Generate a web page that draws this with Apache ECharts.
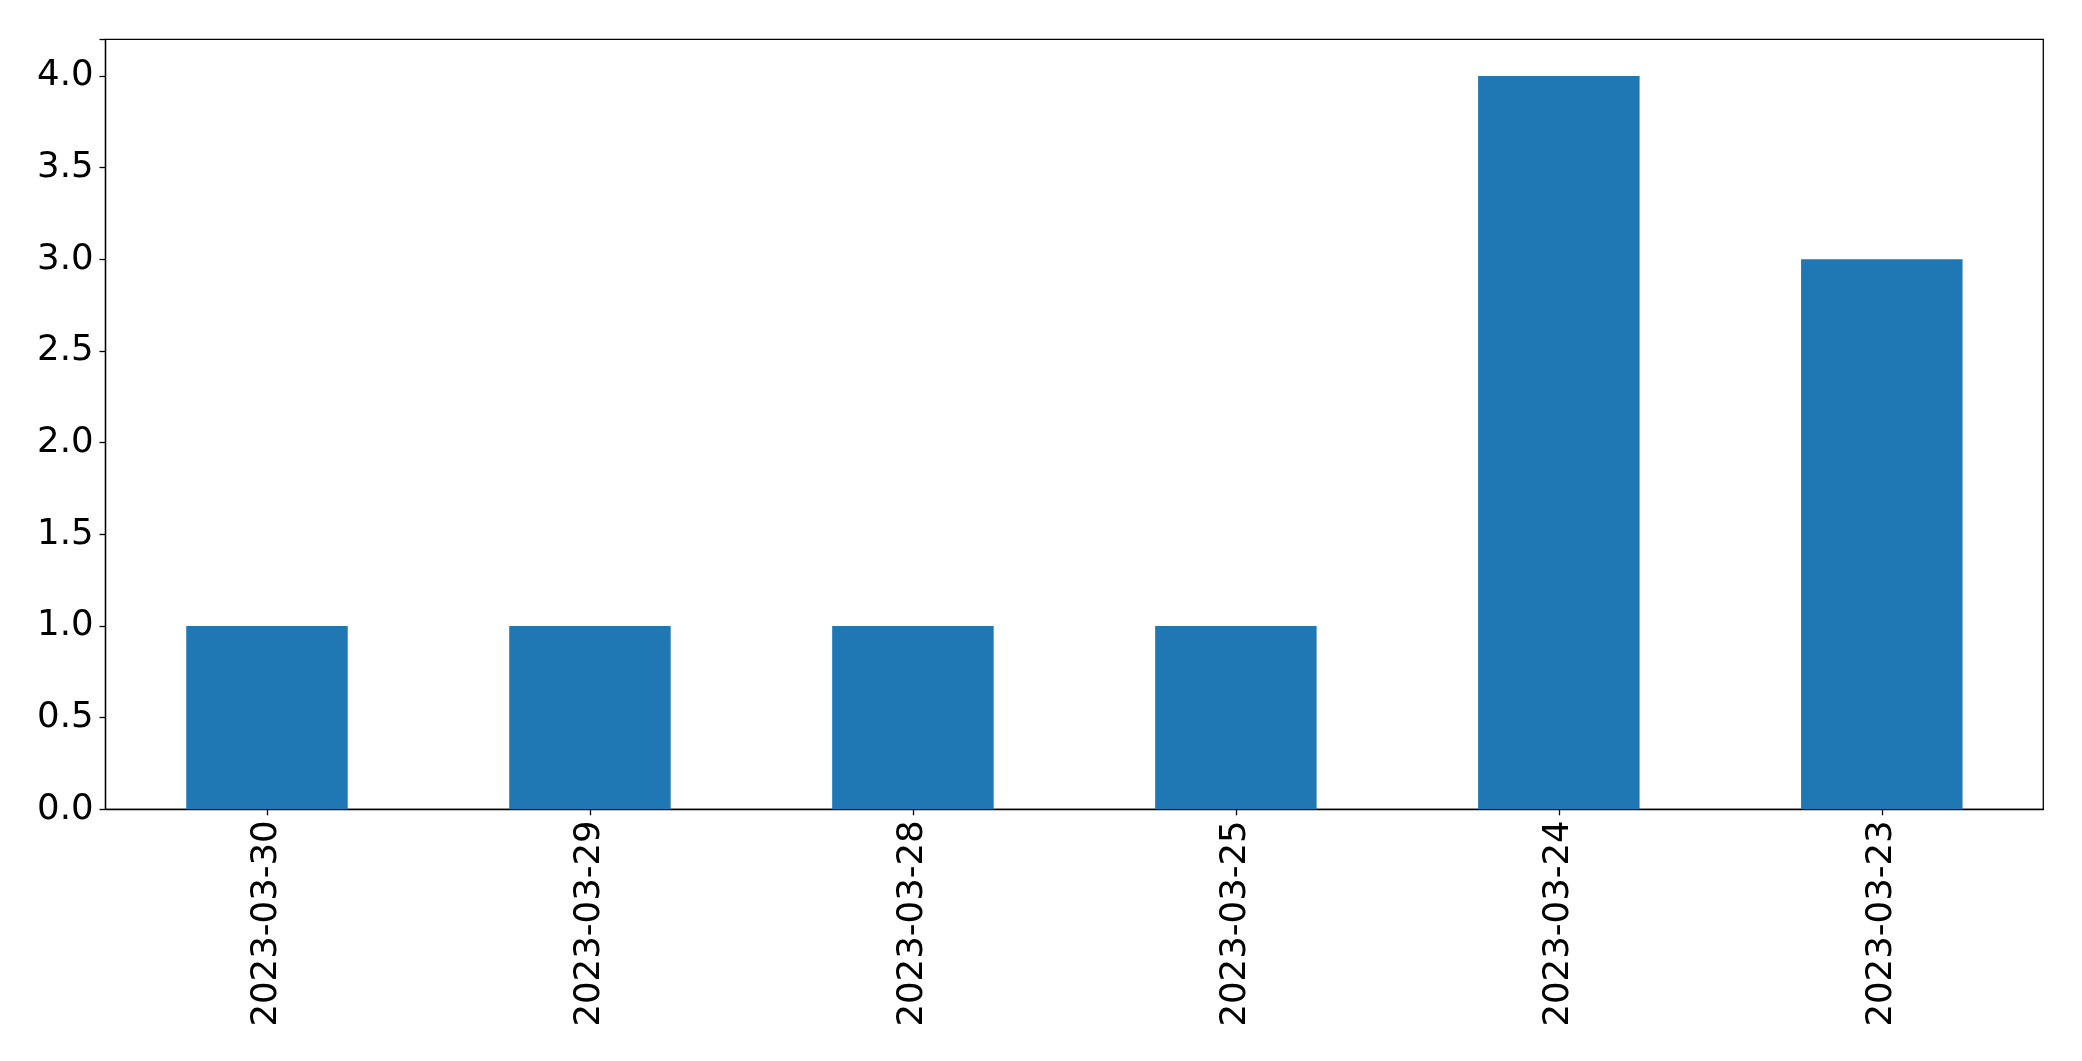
<!DOCTYPE html>
<html>
<head>
<meta charset="utf-8">
<script src="https://cdn.jsdelivr.net/npm/echarts@6/dist/echarts.min.js"></script>
<style>
html,body{margin:0;padding:0;background:#fff;}
#chart{width:2082px;height:1061px;}
</style>
</head>
<body>
<div id="chart"></div>
<script>
const categories = ['2023-03-30','2023-03-29','2023-03-28','2023-03-25','2023-03-24','2023-03-23'];
const values = [1, 1, 1, 1, 4, 3];
const yTicks = [0, 0.5, 1, 1.5, 2, 2.5, 3, 3.5, 4];

const chart = echarts.init(document.getElementById('chart'));
const font = 'DejaVu Sans';
chart.setOption({
  animation: false,
  backgroundColor: '#ffffff',
  grid: {
    left: 105.5, right: 38.7, top: 39.3, bottom: 251.7,
    show: true, borderColor: '#000', borderWidth: 1.3, backgroundColor: 'transparent'
  },
  xAxis: {
    type: 'category',
    data: categories,
    boundaryGap: true,
    axisLine: {show: true, lineStyle: {color: '#000', width: 1.3}},
    axisTick: {show: true, alignWithLabel: true, length: 6, lineStyle: {color: '#000', width: 1.3}},
    axisLabel: {rotate: 90, margin: 11, color: '#000', fontSize: 35.5, fontFamily: font},
    splitLine: {show: false}
  },
  yAxis: {
    type: 'value',
    min: 0, max: 4.2, interval: 0.5,
    axisLine: {show: true, lineStyle: {color: '#000', width: 1.3}},
    axisTick: {show: true, length: 6, lineStyle: {color: '#000', width: 1.3}},
    axisLabel: {
      margin: 12, color: '#000', fontSize: 35.5, fontFamily: font,
      formatter: v => yTicks.indexOf(v) >= 0 ? v.toFixed(1) : ''
    },
    splitLine: {show: false}
  },
  series: [{
    type: 'bar',
    data: values,
    barWidth: '50%',
    itemStyle: {color: '#1f77b4'}
  }]
});
</script>
</body>
</html>
